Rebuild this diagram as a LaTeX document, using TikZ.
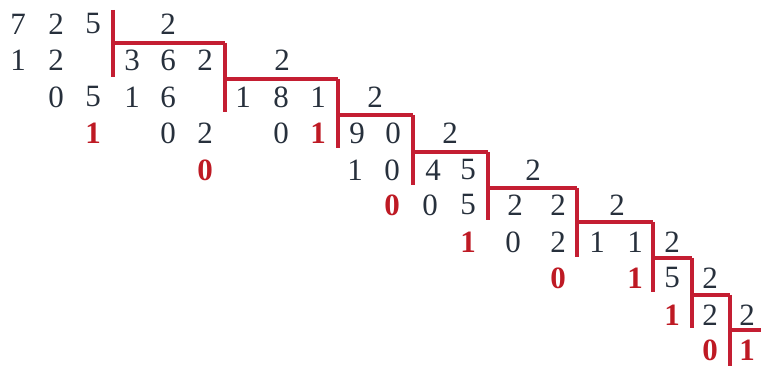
\documentclass[tikz,border=0pt]{standalone}
\usepackage{fontspec}
\setmainfont{Liberation Serif}
\definecolor{ink}{HTML}{27303C}
\definecolor{crim}{HTML}{C41E32}
\definecolor{redtxt}{HTML}{BE1A24}
\begin{document}
\begin{tikzpicture}[x=1pt,y=-1pt,
  dg/.style={inner sep=0pt,text=ink,font=\fontsize{31}{31}\selectfont},
  rd/.style={inner sep=0pt,text=redtxt,font=\fontsize{31}{31}\selectfont\bfseries},
  bar/.style={draw=crim,line width=3.6pt}]
\useasboundingbox (0,0) rectangle (761,366);
% red staircase
\foreach \x/\ya/\yb in {113/10/77,225/43/112,338/79/148,413/115/185,488/152/220,577/188/257,653/222/292,692/258/328,730/295/366}
  \draw[bar] (\x,\ya) -- (\x,\yb);
\foreach \y/\xa/\xb in {43/113/225,79/225/338,115/338/413,152/413/488,188/488/577,222/577/653,258/653/692,295/692/730,330/730/761}
  \draw[bar] (\xa,\y) -- (\xb,\y);
% row 1
\node[dg] (a1) at (18,24) {7};
\node[dg] (a2) at (56,24) {2};
\node[dg] (a3) at (93,24) {5};
\node[dg] (a4) at (168,24) {2};
% row 2
\node[dg] (b1) at (18,60) {1};
\node[dg] (b2) at (56,60) {2};
\node[dg] (b3) at (132,60) {3};
\node[dg] (b4) at (168,60) {6};
\node[dg] (b5) at (205,60) {2};
\node[dg] (b6) at (282,60) {2};
% row 3
\node[dg] (c1) at (56,97) {0};
\node[dg] (c2) at (93,97) {5};
\node[dg] (c3) at (132,97) {1};
\node[dg] (c4) at (168,97) {6};
\node[dg] (c5) at (243,97) {1};
\node[dg] (c6) at (281,97) {8};
\node[dg] (c7) at (318,97) {1};
\node[dg] (c8) at (375,97) {2};
% row 4
\node[rd] (d1) at (93,133) {1};
\node[dg] (d2) at (168,133) {0};
\node[dg] (d3) at (205,133) {2};
\node[dg] (d4) at (281,133) {0};
\node[rd] (d5) at (318,133) {1};
\node[dg] (d6) at (357,133) {9};
\node[dg] (d7) at (393,133) {0};
\node[dg] (d8) at (450,133) {2};
% row 5
\node[rd] (e1) at (205,170) {0};
\node[dg] (e2) at (355,170) {1};
\node[dg] (e3) at (392,170) {0};
\node[dg] (e4) at (433,170) {4};
\node[dg] (e5) at (468,170) {5};
\node[dg] (e6) at (533,170) {2};
% row 6
\node[rd] (f1) at (392,205) {0};
\node[dg] (f2) at (430,205) {0};
\node[dg] (f3) at (468,205) {5};
\node[dg] (f4) at (515,205) {2};
\node[dg] (f5) at (558,205) {2};
\node[dg] (f6) at (617,205) {2};
% row 7
\node[rd] (g1) at (468,242) {1};
\node[dg] (g2) at (513,242) {0};
\node[dg] (g3) at (558,242) {2};
\node[dg] (g4) at (597,242) {1};
\node[dg] (g5) at (635,242) {1};
\node[dg] (g6) at (672,242) {2};
% row 8
\node[rd] (h1) at (558,278) {0};
\node[rd] (h2) at (635,278) {1};
\node[dg] (h3) at (672,278) {5};
\node[dg] (h4) at (710,278) {2};
% row 9
\node[rd] (i1) at (672,315) {1};
\node[dg] (i2) at (710,315) {2};
\node[dg] (i3) at (747,315) {2};
% row 10
\node[rd] (j1) at (710,350) {0};
\node[rd] (j2) at (747,350) {1};
\end{tikzpicture}
\end{document}
